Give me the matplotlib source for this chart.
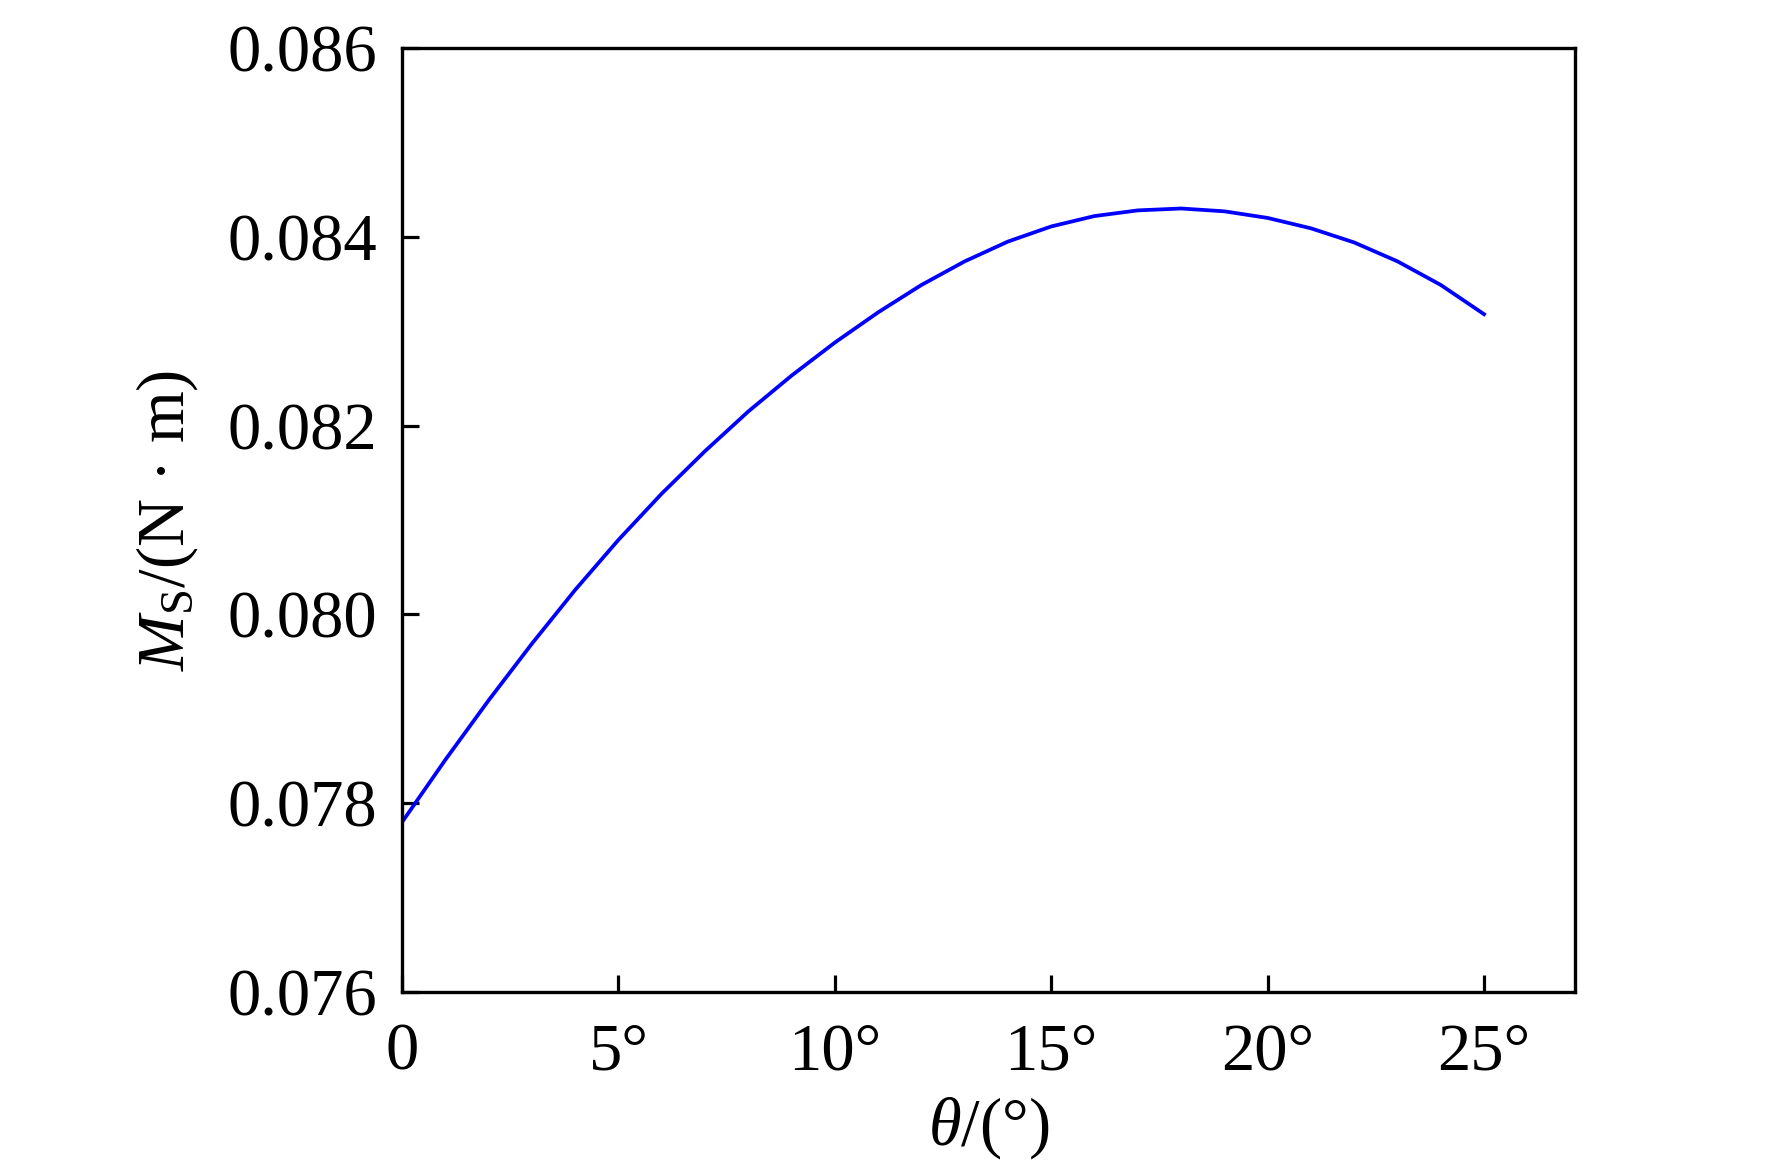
import matplotlib
matplotlib.use("Agg")
import matplotlib.pyplot as plt
import numpy as np

plt.rcParams['font.family'] = ['Liberation Serif', 'DejaVu Serif']
plt.rcParams['mathtext.fontset'] = 'custom'
plt.rcParams['mathtext.rm'] = 'Liberation Serif'
plt.rcParams['mathtext.it'] = 'Liberation Serif:italic'

# angle (deg) and moment (N*m)
theta = np.arange(0, 26)
moment = [0.07780, 0.07846, 0.07909, 0.07969, 0.08026, 0.08079, 0.08128,
          0.08173, 0.08215, 0.08253, 0.08288, 0.08320, 0.08349, 0.08374,
          0.08395, 0.08411, 0.08422, 0.08428, 0.08430, 0.08427, 0.08420,
          0.08409, 0.08394, 0.08374, 0.08349, 0.08318]

xticks = [0, 5, 10, 15, 20, 25]
xticklabels = ['0', '5°', '10°', '15°', '20°', '25°']
yticks = [0.076, 0.078, 0.080, 0.082, 0.084, 0.086]

fig = plt.figure(figsize=(17.72, 11.74), dpi=100)
ax = fig.add_axes([0.2269, 0.155, 0.8888 - 0.2269, 0.9591 - 0.155])

ax.plot(theta, moment, color='#0000ff', lw=2.7, solid_joinstyle='round')

ax.set_xlim(0, 27.1)
ax.set_ylim(0.076, 0.086)
ax.set_xticks(xticks)
ax.set_xticklabels(xticklabels)
ax.set_yticks(yticks)
ax.set_yticklabels(['%.3f' % v for v in yticks])

ax.tick_params(direction='in', length=12, width=2.3, labelsize=48, pad=18)
ax.tick_params(axis='x', pad=22)
for s in ax.spines.values():
    s.set_linewidth(2.4)

ax.set_xlabel(r'$\mathit{\theta}$/(°)', fontsize=48, labelpad=8)
ax.set_ylabel(r'$\mathit{M}_{\mathrm{S}}$/(N · m)', fontsize=48, labelpad=20)

fig.savefig('out.png', dpi=100)
